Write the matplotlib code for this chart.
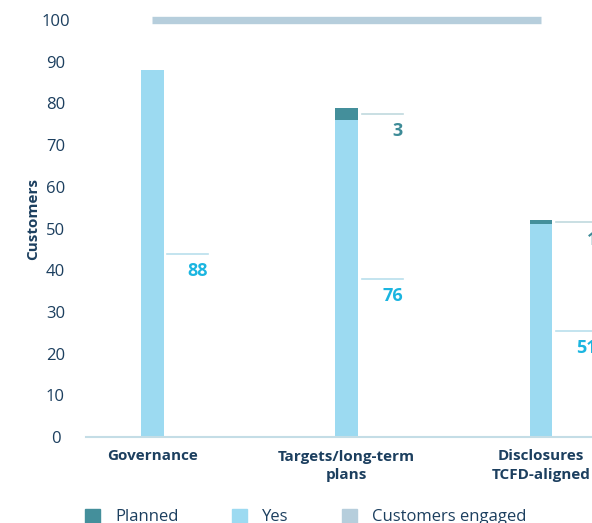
import matplotlib
matplotlib.use("Agg")
import matplotlib.pyplot as plt
from matplotlib.patches import Patch
import numpy as np

categories = ["Governance", "Targets/long-term\nplans", "Disclosures\nTCFD-aligned"]
yes_values = [88, 76, 51]
planned_values = [0, 3, 1]
engaged_value = 100
yticks = [0, 10, 20, 30, 40, 50, 60, 70, 80, 90, 100]

c_yes = "#9cdaf1"
c_planned = "#448f9b"
c_engaged = "#b6cedc"
c_text = "#1c3f5f"
c_yes_lbl = "#1bb5e0"
c_pl_lbl = "#3d8b97"
c_line = "#c4dde6"

plt.rcParams['font.family'] = ['Open Sans', 'DejaVu Sans']

W, H = 592, 523
fig = plt.figure(figsize=(W / 100, H / 100), dpi=100)
ax = fig.add_axes([86 / W, 1 - 437 / H, 1 - 86 / W, 437 / H])

x = np.arange(len(categories))
bw = 0.118
ax.bar(x, yes_values, width=bw, color=c_yes, zorder=2)
ax.bar(x, planned_values, width=bw, bottom=yes_values, color=c_planned, zorder=2)
ax.plot([x[0], x[-1]], [engaged_value, engaged_value], color=c_engaged,
        lw=5.3, solid_capstyle='butt', zorder=2)

# data labels with leader lines
for i in range(len(categories)):
    xs = x[i] + bw / 2 + 0.02
    xe = xs + 0.21
    ym = yes_values[i] / 2
    ax.plot([xs, xe], [ym, ym], color="#b9dfec", lw=1.2, clip_on=False)
    ax.annotate(str(yes_values[i]), (xe, ym), xytext=(0, -6), textcoords='offset points',
                ha='right', va='top', color=c_yes_lbl, fontsize=13, fontweight='bold',
                annotation_clip=False)
    if planned_values[i] > 0:
        yp = yes_values[i] + planned_values[i] / 2
        ax.plot([xs, xe], [yp, yp], color="#c0d9de", lw=1.2, clip_on=False)
        ax.annotate(str(planned_values[i]), (xe, yp), xytext=(0, -6), textcoords='offset points',
                    ha='right', va='top', color=c_pl_lbl, fontsize=13, fontweight='bold',
                    annotation_clip=False)

ax.set_xlim(-0.34, (W - 152) / 194.5)
ax.set_ylim(0, 104.8)
ax.set_yticks(yticks)
ax.set_yticklabels([str(t) for t in yticks])
ax.set_xticks(x)
ax.set_xticklabels(categories, fontweight='bold', fontsize=11, color=c_text, linespacing=1.45)
ax.tick_params(axis='y', length=0, pad=22, labelsize=12, labelcolor=c_text)
ax.tick_params(axis='x', length=0, pad=9)
for lbl in ax.get_yticklabels():
    lbl.set_horizontalalignment('center')

for s in ['top', 'right', 'left']:
    ax.spines[s].set_visible(False)
ax.spines['bottom'].set_color(c_line)
ax.spines['bottom'].set_linewidth(1.5)

ax.set_ylabel("Customers", fontweight='bold', fontsize=11, color=c_text)
ax.yaxis.set_label_coords((40 - 86) / (W - 86), 0.5)

handles = [Patch(color=c_planned, label="Planned"),
           Patch(color=c_yes, label="Yes"),
           Patch(color=c_engaged, label="Customers engaged")]
fig.legend(handles=handles, loc='center left', bbox_to_anchor=(85 / W, 1 - 517 / H),
           ncol=3, frameon=False, fontsize=12, labelcolor=c_text,
           handlelength=0.9, handleheight=0.9, handletextpad=0.9,
           columnspacing=3.2, borderpad=0, borderaxespad=0)

fig.savefig("out.png", dpi=100)
